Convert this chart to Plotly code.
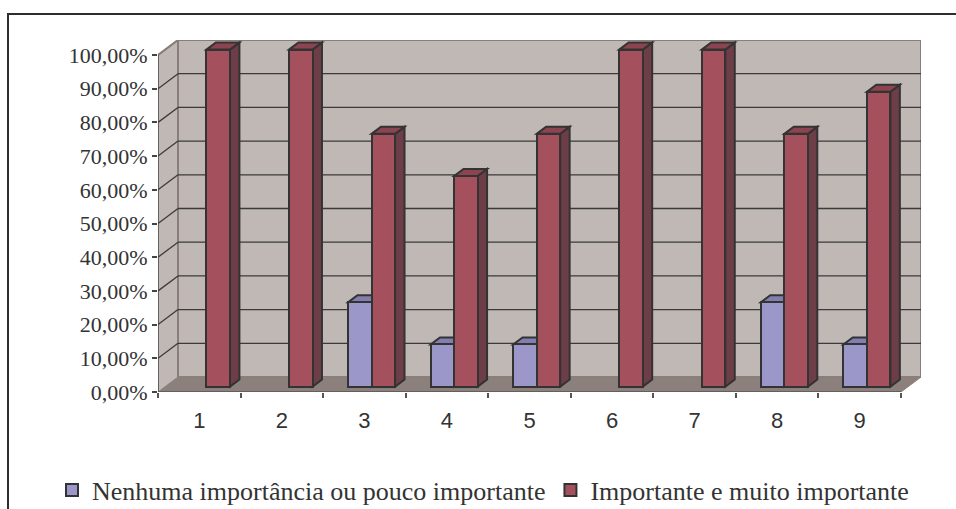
import plotly.graph_objects as go

# ---- data -------------------------------------------------------------
categories = ["1", "2", "3", "4", "5", "6", "7", "8", "9"]
nenhuma = [0, 0, 25, 12.5, 12.5, 0, 0, 25, 12.5]
importante = [100, 100, 75, 62.5, 75, 100, 100, 75, 87.5]
series_names = ["Nenhuma importância ou pouco importante",
                "Importante e muito importante"]
y_tick_values = [0, 10, 20, 30, 40, 50, 60, 70, 80, 90, 100]
y_tick_labels = ["0,00%", "10,00%", "20,00%", "30,00%", "40,00%", "50,00%",
                 "60,00%", "70,00%", "80,00%", "90,00%", "100,00%"]

# ---- geometry of the pseudo-3D box (pixels) ----------------------------
W, H = 956, 509
CAT_PX = 82.56          # width of one category on the front plane
PCT_PX = 3.37           # pixels per percentage point
DEPTH_PX = (20.0, 15.0)  # offset from the front plane to the back wall
LEFT = 158
BOTTOM = 392
n = len(categories)
ymax = max(y_tick_values)

plot_w = n * CAT_PX + DEPTH_PX[0]
plot_h = ymax * PCT_PX + DEPTH_PX[1]
RIGHT = LEFT + plot_w
TOP = BOTTOM - plot_h

ddx = DEPTH_PX[0] / CAT_PX
ddy = DEPTH_PX[1] / PCT_PX
F0, F1 = 0.36, 0.83     # depth of bar front and back faces
BAR_W = 0.285           # bar width in category units

WALL = "#c0b8b5"
FLOOR = "#8c807c"
EDGE = "#8a7e7a"
GRID = "#3a3a3a"
OUTLINE = "#333333"
TEXT = "#333333"
PALETTE = [
    {"front": "#9c97c9", "top": "#837eb0", "side": "#67628f"},
    {"front": "#a5515d", "top": "#8b4450", "side": "#6e3e48"},
]

fig = go.Figure()
shapes = []


def path(points):
    return "M " + " L ".join(f"{x},{y}" for x, y in points) + " Z"


def add_poly(points, fill, line_color=None, width=0):
    shapes.append(dict(type="path", path=path(points), xref="x", yref="y",
                       fillcolor=fill, layer="below",
                       line=dict(color=line_color or fill, width=width)))


def add_line(p0, p1, color, width=1):
    shapes.append(dict(type="line", xref="x", yref="y", layer="below",
                       x0=p0[0], y0=p0[1], x1=p1[0], y1=p1[1],
                       line=dict(color=color, width=width)))


# walls and floor
add_poly([(0, 0), (ddx, ddy), (ddx, ymax + ddy), (0, ymax)], WALL)
add_poly([(ddx, ddy), (n + ddx, ddy), (n + ddx, ymax + ddy), (ddx, ymax + ddy)],
         WALL, EDGE, 2)
add_poly([(0, 0), (n, 0), (n + ddx, ddy), (ddx, ddy)], FLOOR, EDGE, 1)

# gridlines on the back wall and the side wall
for v in y_tick_values[1:]:
    if v < ymax:
        add_line((ddx, v + ddy), (n + ddx, v + ddy), GRID, 1.3)
    add_line((0, v), (ddx, v + ddy), GRID, 1.3)
add_line((0, ymax), (ddx, ymax + ddy), EDGE, 2)

# front axis lines
add_line((0, 0), (0, ymax), "#444444", 1.5)
add_line((0, 0), (n, 0), "#555555", 1.5)

# bars: front faces as bar traces, top/side faces derived from the same values
base = F0 * ddy
sdx = (F1 - F0) * ddx
sdy = (F1 - F0) * ddy
for s, (values, name) in enumerate(zip([nenhuma, importante], series_names)):
    col = PALETTE[s]
    shift = -BAR_W / 2 if s == 0 else BAR_W / 2
    xs = [i + 0.5 + F0 * ddx + shift for i in range(n)]
    # zero-height bars leave no visible mark
    keep = [i for i, v in enumerate(values) if v > 0]
    fig.add_trace(go.Bar(
        x=[xs[i] for i in keep], y=[values[i] for i in keep],
        base=base, width=BAR_W, name=name,
        marker=dict(color=col["front"], line=dict(color=OUTLINE, width=2)),
        hovertemplate=name + "<br>%{customdata}: %{y:.2f}%<extra></extra>",
        customdata=[categories[i] for i in keep],
    ))
    for i in keep:
        xc, v = xs[i], values[i]
        xl, xr = xc - BAR_W / 2, xc + BAR_W / 2
        t = base + v
        add_poly([(xr, base), (xr + sdx, base + sdy), (xr + sdx, t + sdy), (xr, t)],
                 col["side"], OUTLINE, 2)
        add_poly([(xl, t), (xr, t), (xr + sdx, t + sdy), (xl + sdx, t + sdy)],
                 col["top"], OUTLINE, 2)


# outer chart frame (pixel positions converted to paper units)
def px_to_paper_x(px):
    return (px - LEFT) / plot_w


def px_to_paper_y(py):
    return (BOTTOM - py) / plot_h


shapes.append(dict(type="rect", xref="paper", yref="paper", layer="above",
                   x0=px_to_paper_x(8), y0=px_to_paper_y(14),
                   x1=px_to_paper_x(W + 10), y1=px_to_paper_y(H + 10),
                   line=dict(color="#2e2e2e", width=2),
                   fillcolor="rgba(0,0,0,0)"))

fig.update_layout(
    width=W, height=H, autosize=False,
    margin=dict(l=LEFT, r=W - RIGHT, t=TOP, b=H - BOTTOM, pad=0,
                autoexpand=False),
    paper_bgcolor="white", plot_bgcolor="white",
    barmode="overlay", bargap=0,
    shapes=shapes,
    showlegend=True,
    legend=dict(orientation="h", x=px_to_paper_x(52), xanchor="left",
                y=px_to_paper_y(490), yanchor="middle",
                font=dict(family="Liberation Serif", size=26, color=TEXT),
                bgcolor="rgba(0,0,0,0)", itemwidth=30, traceorder="normal"),
    xaxis=dict(range=[0, n + ddx], showgrid=False, zeroline=False,
               showline=False, tickmode="array",
               tickvals=[i + 0.5 for i in range(n)], ticktext=categories,
               ticks="outside", ticklen=9, tickcolor="rgba(0,0,0,0)",
               tickfont=dict(family="Liberation Sans", size=22, color=TEXT),
               minor=dict(tickmode="array", tickvals=list(range(n + 1)),
                          ticks="outside", ticklen=5, tickwidth=1.5,
                          tickcolor="#555555", showgrid=False),
               fixedrange=True),
    yaxis=dict(range=[0, ymax + ddy], showgrid=False, zeroline=False,
               showline=False, tickmode="array", tickvals=y_tick_values,
               ticktext=y_tick_labels, ticks="outside", ticklen=5,
               tickwidth=1.5, tickcolor="#444444",
               tickfont=dict(family="Liberation Serif", size=22, color=TEXT),
               fixedrange=True),
)

fig.write_html("out.html")
